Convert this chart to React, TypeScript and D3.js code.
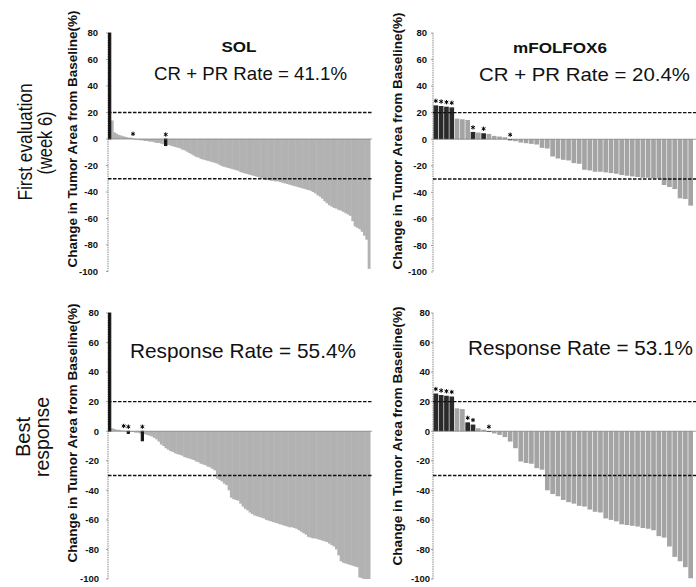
import React from "react";
import * as d3 from "d3";

// ---------- DATA ----------
const yTicks = [80, 60, 40, 20, 0, -20, -40, -60, -80, -100];
const refLines = [20, -30];

// SOL, first evaluation (week 6)
const solFirst = [
  80, 14, 5, 4, 3, 2.5, 2, 1.5, 1, 1,
  0.5, -0.5, -0.5, -1, -1, -1.5, -1.5, -2, -2, -2.5,
  -3, -3, -3.5, -4, -5, -4.5, -5, -5.5, -6, -6.5,
  -7, -8, -8.5, -9.5, -10.5, -11.5, -12.5, -13.5, -14, -15,
  -15.5, -16, -16.5, -17, -17.5, -18, -18.5, -19.5, -20.5, -21,
  -21.5, -22, -22.5, -23, -23.5, -24, -25, -25.5, -26, -26.5,
  -27, -27.5, -28, -28.5, -29, -29.5, -30.5, -31, -31, -31.5,
  -31.5, -32, -32, -32.5, -33, -33.5, -34, -34.5, -35, -35.5,
  -36, -36.5, -37, -37.5, -38, -38.5, -39, -40, -41, -42.5,
  -43.5, -45, -47, -48.5, -50, -51, -52, -52.5, -53.5, -54,
  -55, -56, -57, -58, -62, -66, -67, -68, -70, -73,
  -76, -98,
];
const solFirstBlack = [0, 24];
const solFirstStars = [10, 24];

// mFOLFOX6, first evaluation (week 6)
const folFirst = [
  25.5, 25, 24.5, 24, 15.5, 15, 14.5, 5.5, 5, 4.5,
  4, 2.5, 2, 1.5, -0.8, -1.5, -2.5, -3, -3.5, -4,
  -6.5, -7, -13, -14.5, -15.5, -16, -18, -18.5, -23, -23.5,
  -24.5, -24.5, -25, -25.5, -26, -27, -27.5, -28, -28.5, -29,
  -29, -29.5, -29.5, -34.5, -36, -37.5, -44.5, -45, -50,
];
const folFirstBlack = [0, 1, 2, 3, 7, 9, 14];
const folFirstStars = [0, 1, 2, 3, 7, 9, 14];

// SOL, best response
const solBest = [
  80, 2, 1.5, 1, 1, 0.5, 0.5, -0.5, -1.5, -0.5,
  -0.5, -1, -1, -1.5, -6.5, -2, -2.5, -3, -3.5, -4.5,
  -5.5, -7, -9, -10, -11.5, -12.5, -13.5, -14, -15, -15.5,
  -16, -16.5, -17.5, -18, -18.5, -19, -19.5, -20.5, -21, -22,
  -22.5, -23, -24, -24.5, -25.5, -26.5, -32, -33, -34, -35.5,
  -36.5, -40, -45, -46, -46.5, -47, -49, -51, -52.5, -53.5,
  -55, -56, -57, -57.5, -58, -58.5, -59, -60, -60.5, -61,
  -61.5, -62, -62.5, -63, -63.5, -64, -64.5, -65, -65, -65.5,
  -66, -67, -68, -69, -70, -71.5, -72, -72.5, -72.5, -73,
  -73.5, -74, -74.5, -75, -76, -77, -78, -80, -84, -88,
  -89, -89.5, -90, -90.5, -91, -91.5, -92, -99, -99.5, -100,
  -100, -100,
];
const solBestBlack = [0, 8, 14];
const solBestStars = [6, 8, 14];

// mFOLFOX6, best response
const folBest = [
  25.5, 24.5, 24, 23.5, 15.5, 15, 6, 4.5, 2, 1,
  -0.5, -1.5, -2.5, -4, -7, -11.5, -20.5, -21.5, -22, -25,
  -26, -40, -42.5, -44, -46.5, -48, -49, -50.5, -51, -53,
  -54.5, -55, -59, -60, -61, -63, -63.5, -64, -64.5, -65.5,
  -66, -67, -71, -72, -78, -85, -88, -92, -99.5,
];
const folBestBlack = [0, 1, 2, 3, 6, 7, 10];
const folBestStars = [0, 1, 2, 3, 6, 7, 10];

const yTitle = "Change in Tumor Area from Baseline(%)";
const FONT = "'Liberation Sans', Arial, Helvetica, sans-serif";

type PanelProps = {
  data: number[];
  black: number[];
  stars: number[];
  x0: number;
  x1: number;
  y80: number;
  y100: number;
  gray: string;
  dark: string;
  labelRight: number;
  lineEnd: number;
  pad: number;
  overlap: number;
  blackStroke: number;
};

function Panel(p: PanelProps) {
  const x = d3
    .scaleBand<number>()
    .domain(d3.range(p.data.length))
    .range([p.x0 + 0.5, p.x1])
    .paddingInner(p.pad);
  const y = d3.scaleLinear().domain([-100, 80]).range([p.y100, p.y80]);
  const bw = x.bandwidth();
  const star = d3.symbol().type(d3.symbolAsterisk).size(13)() as string;
  return (
    <g>
      {/* axis */}
      <line x1={p.x0} x2={p.x0} y1={y(80)} y2={y(-100)} stroke="#8a8a8a" strokeWidth={1} strokeDasharray="1.5,0.8" />
      {yTicks.map((t) => (
        <g key={t}>
          <line x1={p.x0 - 2} x2={p.x0} y1={y(t)} y2={y(t)} stroke="#8a8a8a" strokeWidth={0.8} />
          <text
            x={p.labelRight}
            y={y(t)}
            dy="0.35em"
            textAnchor="end"
            fontSize={9.5}
            fontWeight="bold"
            fontFamily={FONT}
            fill="#111"
          >
            {String(t)}
          </text>
        </g>
      ))}
      {/* gray bars */}
      {p.data.map((v, i) => {
        if (p.black.includes(i)) return null;
        const top = Math.min(y(v), y(0));
        const h = Math.max(Math.abs(y(v) - y(0)), 0.8);
        return <rect key={i} x={x(i)} y={top} width={bw + p.overlap} height={h} fill={p.gray} />;
      })}
      {/* black bars */}
      {p.black.map((i) => {
        const v = p.data[i];
        const top = Math.min(y(v), y(0));
        const h = Math.max(Math.abs(y(v) - y(0)), 0.8);
        return (
          <rect
            key={i}
            x={x(i)}
            y={top}
            width={bw}
            height={h}
            fill={p.dark}
            stroke={p.dark}
            strokeWidth={p.blackStroke}
          />
        );
      })}
      {/* zero line */}
      <line x1={p.x0} x2={p.lineEnd} y1={y(0)} y2={y(0)} stroke="#777" strokeWidth={0.7} />
      {/* reference lines */}
      {refLines.map((r) => (
        <line
          key={r}
          x1={p.x0}
          x2={p.lineEnd}
          y1={y(r)}
          y2={y(r)}
          stroke="#111"
          strokeWidth={1.4}
          strokeDasharray="3.5,1.5"
        />
      ))}
      {/* stars */}
      {p.stars.map((i) => {
        const v = p.data[i];
        const cx = (x(i) as number) + bw / 2;
        const cy = Math.min(y(v), y(0)) - 4.5;
        return (
          <path key={i} d={star} transform={`translate(${cx},${cy})`} fill="none" stroke="#000" strokeWidth={1} />
        );
      })}
    </g>
  );
}

function VText(props: { x: number; y: number; size: number; bold?: boolean; len: number; children: string }) {
  return (
    <text
      transform={`translate(${props.x},${props.y}) rotate(-90)`}
      textAnchor="middle"
      fontSize={props.size}
      fontWeight={props.bold ? "bold" : "normal"}
      fontFamily={FONT}
      fill="#111"
      textLength={props.len}
      lengthAdjust="spacingAndGlyphs"
    >
      {props.children}
    </text>
  );
}

export default function App() {
  return (
    <svg
      width={696}
      height={587}
      viewBox="0 0 696 587"
      style={{ position: "absolute", left: 0, top: 0, background: "#fff", display: "block" }}
    >
      <rect width={696} height={587} fill="#fff" />

      {/* row labels */}
      <VText x={32} y={142} size={19.5} len={117}>First evaluation</VText>
      <VText x={51.5} y={143} size={19.5} len={63}>(week 6)</VText>
      <VText x={30} y={437} size={21} len={40}>Best</VText>
      <VText x={49} y={437} size={21} len={80}>response</VText>

      {/* y-axis titles */}
      <VText x={76.5} y={139} size={13} bold len={257}>{yTitle}</VText>
      <VText x={401.5} y={141} size={13} bold len={257}>{yTitle}</VText>
      <VText x={76.5} y={433} size={13} bold len={259}>{yTitle}</VText>
      <VText x={401.5} y={436} size={13} bold len={259}>{yTitle}</VText>

      {/* panels */}
      <Panel data={solFirst} black={solFirstBlack} stars={solFirstStars} x0={108} x1={370} y80={33} y100={271.5}
        gray="#b2b2b2" dark="#111" labelRight={98} lineEnd={372} pad={0} overlap={0.5} blackStroke={0.9} />
      <Panel data={folFirst} black={folFirstBlack} stars={folFirstStars} x0={433} x1={693} y80={33} y100={272}
        gray="#a4a4a4" dark="#2a2a2a" labelRight={427} lineEnd={696} pad={0.12} overlap={0} blackStroke={0} />
      <Panel data={solBest} black={solBestBlack} stars={solBestStars} x0={108} x1={370} y80={313} y100={579}
        gray="#b2b2b2" dark="#111" labelRight={99} lineEnd={372} pad={0} overlap={0.5} blackStroke={0.9} />
      <Panel data={folBest} black={folBestBlack} stars={folBestStars} x0={433} x1={693} y80={313} y100={579}
        gray="#a4a4a4" dark="#2a2a2a" labelRight={430} lineEnd={696} pad={0.12} overlap={0} blackStroke={0} />

      {/* titles */}
      <text x={239} y={52} textAnchor="middle" fontSize={15} fontWeight="bold" fontFamily={FONT} fill="#111"
        textLength={35} lengthAdjust="spacingAndGlyphs">SOL</text>
      <text x={560} y={53} textAnchor="middle" fontSize={15} fontWeight="bold" fontFamily={FONT} fill="#111"
        textLength={94} lengthAdjust="spacingAndGlyphs">mFOLFOX6</text>

      <text x={154} y={80} fontSize={18.5} fontFamily={FONT} fill="#111" textLength={193} lengthAdjust="spacingAndGlyphs">
        CR + PR Rate = 41.1%
      </text>
      <text x={479} y={81} fontSize={19} fontFamily={FONT} fill="#111" textLength={211} lengthAdjust="spacingAndGlyphs">
        CR + PR Rate = 20.4%
      </text>
      <text x={130} y={358} fontSize={21} fontFamily={FONT} fill="#111" textLength={226} lengthAdjust="spacingAndGlyphs">
        Response Rate = 55.4%
      </text>
      <text x={468} y={355} fontSize={20.5} fontFamily={FONT} fill="#111" textLength={225} lengthAdjust="spacingAndGlyphs">
        Response Rate = 53.1%
      </text>
    </svg>
  );
}
